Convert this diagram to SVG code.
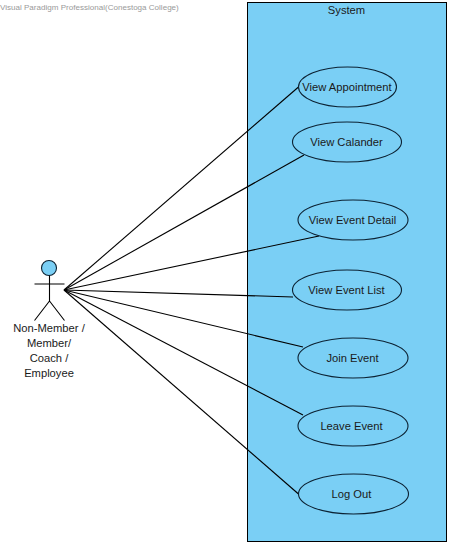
<svg xmlns="http://www.w3.org/2000/svg" width="451" height="546" viewBox="0 0 451 546">
<style>
text{font-family:"Liberation Sans",Arial,sans-serif;font-size:11.200px;fill:#1a1a1a;text-anchor:middle}
.uc{fill:#7acff5;stroke:#0c2233;stroke-width:1.1}
.ln{stroke:#000;stroke-width:1.1;fill:none}
</style>
<rect width="451" height="546" fill="#fff"/>
<text x="0" y="10" style="text-anchor:start;font-size:8.050px;fill:#9a9a9a">Visual Paradigm Professional(Conestoga College)</text>
<g id="system"><rect x="247.500" y="2.500" width="199" height="539" fill="#7acff5" stroke="#000" stroke-width="1"/><text x="346.500" y="14">System</text></g>
<g id="connectors" class="ln">
<line x1="64" y1="290" x2="298.500" y2="87"/>
<line x1="64" y1="290" x2="304" y2="155"/>
<line x1="64" y1="290" x2="319" y2="236"/>
<line x1="64" y1="290" x2="293" y2="297"/>
<line x1="64" y1="290" x2="303" y2="347"/>
<line x1="64" y1="290" x2="303" y2="415"/>
<line x1="64" y1="290" x2="298.500" y2="494"/>
</g>
<g id="actor"><circle cx="49" cy="268" r="7.500" fill="#7acff5" stroke="#0c2233" stroke-width="1.100"/><path class="ln" d="M49.500 275.500V301M34.500 284H64.500M49.500 301L34.500 320.500M49.500 301L64.500 320.500"/>
<text x="49" y="332">Non-Member /</text><text x="49" y="347">Member/</text><text x="49" y="362">Coach /</text><text x="49" y="377">Employee</text></g>
<g id="uc1"><ellipse class="uc" cx="347.500" cy="87" rx="49" ry="20"/><text x="347" y="91">View Appointment</text></g>
<g id="uc2"><ellipse class="uc" cx="347" cy="142" rx="54.500" ry="20"/><text x="346.500" y="146">View Calander</text></g>
<g id="uc3"><ellipse class="uc" cx="353" cy="220" rx="55" ry="20"/><text x="352.500" y="224">View Event Detail</text></g>
<g id="uc4"><ellipse class="uc" cx="347" cy="290" rx="54.500" ry="20"/><text x="346.500" y="294">View Event List</text></g>
<g id="uc5"><ellipse class="uc" cx="353" cy="358" rx="55" ry="20"/><text x="352.500" y="362">Join Event</text></g>
<g id="uc6"><ellipse class="uc" cx="353" cy="426" rx="55" ry="20"/><text x="351.500" y="430">Leave Event</text></g>
<g id="uc7"><ellipse class="uc" cx="353.500" cy="494" rx="55" ry="20"/><text x="351.500" y="498">Log Out</text></g>
</svg>
